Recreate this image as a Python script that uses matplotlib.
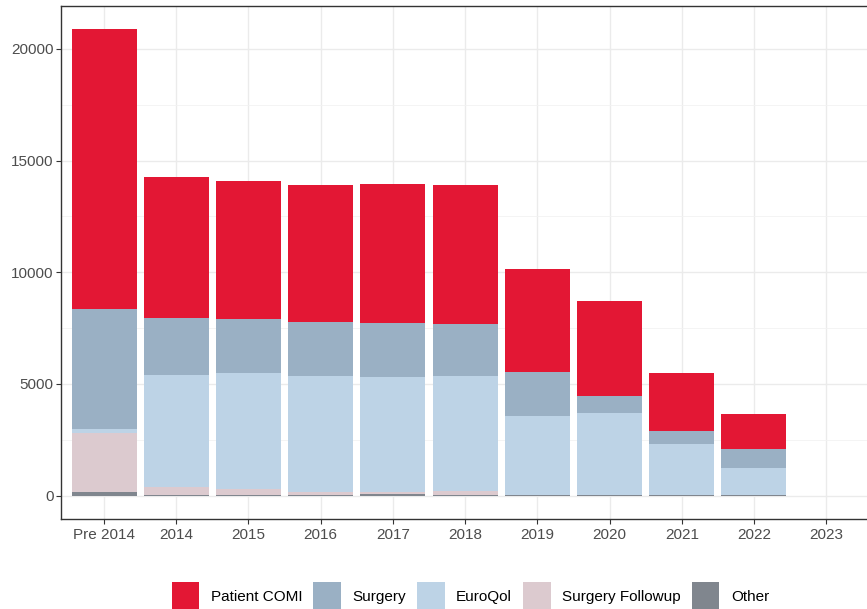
import numpy as np
import matplotlib as mpl
from matplotlib import pyplot as plt
from matplotlib.ticker import MultipleLocator

categories = ['Pre 2014', '2014', '2015', '2016', '2017', '2018',
              '2019', '2020', '2021', '2022', '2023']

# stacked from the bottom up
other = [180, 40, 10, 20, 60, 10, 40, 10, 10, 40, 0]
surgery_followup = [2640, 360, 303, 160, 120, 214, 0, 0, 0, 0, 0]
euroqol = [180, 5014, 5190, 5189, 5144, 5145, 3508, 3672, 2285, 1213, 0]
surgery = [5369, 2550, 2416, 2416, 2416, 2327, 2000, 761, 582, 836, 0]
patient_comi = [12513, 6309, 6175, 6130, 6220, 6219, 4609, 4282, 2626, 1565, 0]

series = [
    ('Other', other, '#80868E'),
    ('Surgery Followup', surgery_followup, '#DCCACF'),
    ('EuroQol', euroqol, '#BDD3E6'),
    ('Surgery', surgery, '#9AB0C4'),
    ('Patient COMI', patient_comi, '#E31734'),
]

mpl.rcParams['font.family'] = ['Liberation Sans', 'DejaVu Sans']

fig = plt.figure(figsize=(8.67, 6.09), dpi=100)
ax = fig.add_axes([0.070, 0.1478, 0.9329, 0.8424])

x = np.arange(len(categories))
bottom = np.zeros(len(categories))
handles = {}
for name, vals, color in series:
    vals = np.array(vals, dtype=float)
    bars = ax.bar(x, vals, bottom=bottom, width=0.9, color=color, linewidth=0, zorder=2)
    handles[name] = bars
    bottom += vals

total_max = bottom.max()
ax.set_xlim(-0.6, len(categories) - 0.4)
ax.set_ylim(-0.05 * total_max, total_max * 1.05)

ax.set_xticks(x)
ax.set_xticklabels(categories)
ax.yaxis.set_major_locator(MultipleLocator(5000))
ax.yaxis.set_minor_locator(MultipleLocator(2500))

# gridlines like theme_bw
ax.grid(which='major', color='#EBEBEB', linewidth=1.0, zorder=0)
ax.grid(which='minor', axis='y', color='#F2F2F2', linewidth=0.6, zorder=0)
ax.set_axisbelow(True)

ax.tick_params(axis='both', which='major', length=3.5, width=0.8, color='#333333',
               labelcolor='#4D4D4D', labelsize=11)
ax.tick_params(axis='y', which='major', pad=1.5)
ax.tick_params(axis='x', which='major', pad=3)
ax.tick_params(axis='y', which='minor', length=0)
for side in ['left', 'bottom', 'top', 'right']:
    ax.spines[side].set_color('#333333')
    ax.spines[side].set_linewidth(1.0)

order = ['Patient COMI', 'Surgery', 'EuroQol', 'Surgery Followup', 'Other']
fig.legend([handles[n] for n in order], order, loc='center',
           bbox_to_anchor=(0.5425, 1 - 596 / 609), ncol=5, frameon=False,
           fontsize=11, handlelength=1.81, handleheight=2.41,
           handletextpad=0.75, columnspacing=0.72, borderpad=0)

fig.savefig('out.png', dpi=100)
